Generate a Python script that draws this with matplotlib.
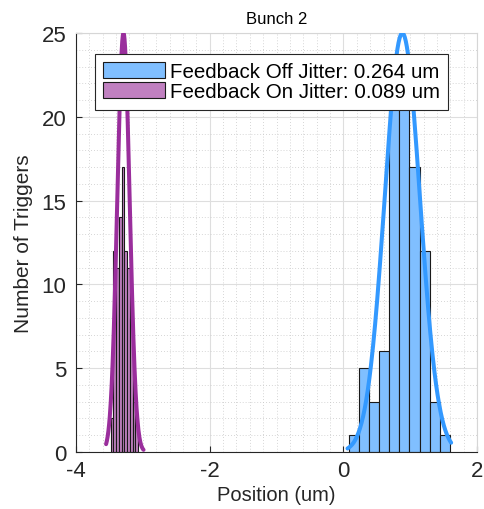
import numpy as np
import matplotlib
matplotlib.use('Agg')
from matplotlib import pyplot as plt
from matplotlib.ticker import MultipleLocator

plt.rcParams['font.family'] = ['Liberation Sans', 'DejaVu Sans']
plt.rcParams['axes.unicode_minus'] = False

# Histogram counts (10 bins each)
off_counts = [1, 5, 3, 6, 22, 23, 17, 12, 3, 1]
on_counts = [2, 12, 11, 14, 17, 12, 11, 8, 3, 2]

# Bin start and bin width, in um
off_start, off_width = 0.08, 0.151
on_start, on_width = -3.48, 0.0409

# Normal fit parameters: mean, sigma, peak height, plotted range
off_fit = dict(mu=0.88, sigma=0.264, peak=25.0, lo=0.06, hi=1.61)
on_fit = dict(mu=-3.29, sigma=0.092, peak=25.0, lo=-3.55, hi=-2.99)

off_label = 'Feedback Off Jitter: 0.264 um'
on_label = 'Feedback On Jitter: 0.089 um'

BLUE_FACE = '#80bfff'
BLUE_LINE = '#3399ff'
PURPLE_FACE = '#c080c0'
PURPLE_LINE = '#9a2e9c'
DARK = '#262626'

fig = plt.figure(figsize=(4.84, 5.10), dpi=100)
ax = fig.add_axes([0.157, 0.112, 0.829, 0.821])


def fit_curve(p):
    x = np.linspace(p['lo'], p['hi'], 200)
    return x, p['peak'] * np.exp(-(x - p['mu']) ** 2 / (2 * p['sigma'] ** 2))


# Bars
off_left = off_start + off_width * np.arange(len(off_counts))
on_left = on_start + on_width * np.arange(len(on_counts))
b_off = ax.bar(off_left, off_counts, width=off_width, align='edge',
               color=BLUE_FACE, edgecolor='#1a1a1a', linewidth=0.8,
               label=off_label, zorder=2)
b_on = ax.bar(on_left, on_counts, width=on_width, align='edge',
              color=PURPLE_FACE, edgecolor='#1a1a1a', linewidth=0.8,
              label=on_label, zorder=2)

# Fitted curves
x, y = fit_curve(off_fit)
ax.plot(x, y, color=BLUE_LINE, lw=2.9, solid_capstyle='round', zorder=3)
x, y = fit_curve(on_fit)
ax.plot(x, y, color=PURPLE_LINE, lw=2.9, solid_capstyle='round', zorder=3)

ax.set_xlim(-4, 2)
ax.set_ylim(0, 25)
ax.set_xticks([-4, -2, 0, 2])
ax.set_yticks([0, 5, 10, 15, 20, 25])
ax.xaxis.set_minor_locator(MultipleLocator(0.2))
ax.yaxis.set_minor_locator(MultipleLocator(1))

ax.set_axisbelow(True)
ax.grid(which='major', color='#dedede', linewidth=0.8, linestyle='-')
ax.grid(which='minor', color='#c8c8c8', linewidth=0.6, linestyle=(0, (1, 2.5)))

ax.tick_params(which='major', direction='in', length=4, width=0.8,
               colors=DARK, labelsize=16, top=False, right=False)
ax.tick_params(axis='x', which='major', pad=6)
ax.tick_params(axis='y', which='major', pad=7)
ax.tick_params(which='minor', length=0)
for side in ['left', 'bottom']:
    ax.spines[side].set_color(DARK)
    ax.spines[side].set_linewidth(0.8)
for side in ['top', 'right']:
    ax.spines[side].set_color('#d6d6d6')
    ax.spines[side].set_linewidth(0.8)

ax.set_xlabel('Position (um)', fontsize=14.5, color=DARK, labelpad=3)
ax.set_ylabel('Number of Triggers', fontsize=15, color=DARK, labelpad=6)
ax.set_title('Bunch 2', fontsize=12, color='black', pad=7)

leg = ax.legend(handles=[b_off, b_on], loc='upper left',
                bbox_to_anchor=(0.047, 0.95), borderaxespad=0,
                fontsize=14.8, frameon=True, fancybox=False,
                edgecolor=DARK, framealpha=1, handlelength=3.0,
                handleheight=0.8, handletextpad=0.25, labelspacing=0.05,
                borderpad=0.4)
leg.get_frame().set_linewidth(0.8)
leg.set_zorder(5)

fig.savefig('out.png', dpi=100)
